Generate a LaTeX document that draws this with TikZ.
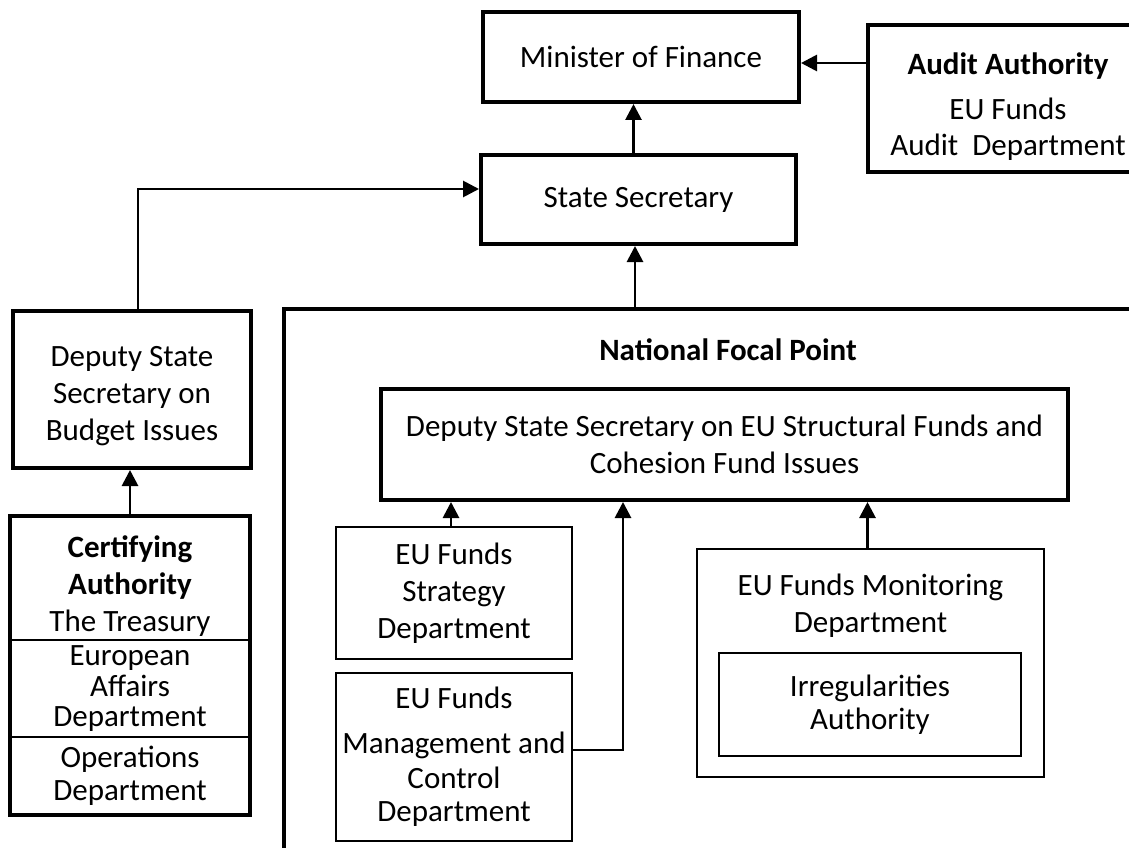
\documentclass[tikz,border=0pt]{standalone}
\usepackage{fontspec}
\setmainfont{Carlito}
\usetikzlibrary{arrows.meta}

\begin{document}
\begin{tikzpicture}[x=1pt,y=-1pt,
    box/.style={shape=rectangle,draw=black,line width=4pt,align=center,inner sep=0pt,font=\fontsize{31}{37}\selectfont},
    dept/.style={box,line width=2.5pt},
    sub/.style={box,line width=1.2pt},
    txt/.style={align=center,inner sep=0pt,font=\fontsize{31}{37}\selectfont},
    conn/.style={line width=2.8pt,-{Triangle[width=16pt,length=16pt]}}]
    \useasboundingbox (0,0) rectangle (1129,848);
    \begin{scope}
        \clip (0,0) rectangle (1129,848);
        \node[box, minimum width=280, minimum height=147] (audit) at (1008,98.5) {};
        \node[box, minimum width=916, minimum height=591] (nfp) at (742,604.5) {};
    \end{scope}
    \node[txt] (audittext) at (1008,106.5) {\textbf{Audit Authority}\\[8pt]EU Funds\\[-1pt]Audit\ \ Department};

    \node[box, minimum width=316, minimum height=90] (minister) at (641,57) {Minister of Finance};
    \node[box, minimum width=315, minimum height=89] (state) at (638.5,199.5) {State Secretary};
    \node[box, minimum width=238, minimum height=157] (budget) at (132,389.5) {};
    \node[txt] (budgettext) at (132,396) {Deputy State\\Secretary on\\Budget Issues};

    \node[txt] (nfplabel) at (728,350) {\textbf{National Focal Point}};
    \node[box, minimum width=687, minimum height=111] (deu) at (724.5,444.5) {Deputy State Secretary on EU Structural Funds and\\Cohesion Fund Issues};
    \node[dept, minimum width=236, minimum height=132] (strategy) at (454,593) {EU Funds\\Strategy\\Department};
    \node[dept, minimum width=236, minimum height=168] (mgmt) at (454,757) {EU Funds\\[8pt]Management and\\[-2pt]Control\\[-4pt]Department};
    \node[dept, minimum width=347, minimum height=228] (monitor) at (870.5,663) {};
    \node[txt] (monlabel) at (870.5,606) {EU Funds Monitoring\\Department};
    \node[sub, minimum width=302, minimum height=103] (irreg) at (870,704.5) {Irregularities\\[-4pt]Authority};

    % certifying authority
    \node[dept, minimum width=238, minimum height=123] (certa) at (130,578.5) {};
    \node[txt] (certatext) at (130,586) {\textbf{Certifying}\\\textbf{Authority}\\The Treasury};
    \node[dept, minimum width=238, minimum height=97] (certb) at (130,688.5) {European\\[-6pt]Affairs\\[-7pt]Department};
    \node[dept, minimum width=238, minimum height=77] (certc) at (130,775.5) {Operations\\[-4pt]Department};
    \draw[line width=4pt] (certa.north west) rectangle (certc.south east);

    \path[conn] ([xshift=-5pt]state.north) edge ([xshift=-5pt]state.north |- minister.south);
    \path[conn] ([yshift=35.5pt]audit.west) edge ([yshift=35.5pt]audit.west -| minister.east);
    \draw[conn] ([xshift=6pt]budget.north) |- ([yshift=10.5pt]state.west);
    \path[conn] ([xshift=-3.5pt]state.south |- nfp.north) edge ([xshift=-3.5pt]state.south);
    \path[conn] (certa.north) edge (certa.north |- budget.south);

    \path[conn] ([xshift=-3pt]strategy.north) edge ([xshift=-3pt]strategy.north |- deu.south);
    \draw[conn] ([yshift=7pt]mgmt.east) -| ([xshift=-101.5pt]deu.south);
    \path[conn] ([xshift=-3pt]monitor.north) edge ([xshift=-3pt]monitor.north |- deu.south);
\end{tikzpicture}
\end{document}
